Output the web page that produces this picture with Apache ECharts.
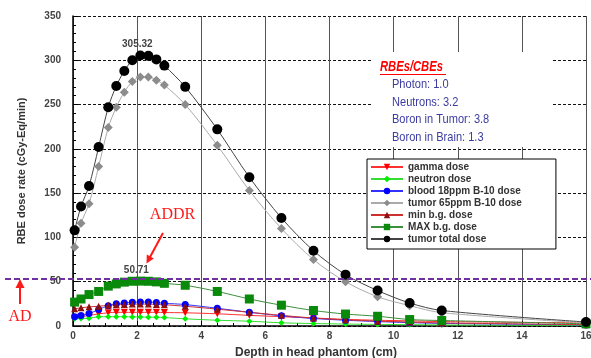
<!DOCTYPE html>
<html><head><meta charset="utf-8">
<script src="https://cdn.jsdelivr.net/npm/echarts@6/dist/echarts.min.js"></script>
<style>html,body{margin:0;padding:0;background:#fff}#c{width:591px;height:358px}</style>
</head><body><div id="c"></div>
<script>
// ---- data ----
const depth      = [0.05, 0.25, 0.5, 0.8, 1.1, 1.35, 1.6, 1.85, 2.1, 2.35, 2.6, 2.85, 3.5, 4.5, 5.5, 6.5, 7.5, 8.5, 9.5, 10.5, 11.5, 16];
const gamma      = [9.2, 10.5, 11.8, 13.7, 14.9, 15.4, 15.4, 15.4, 15.4, 15.4, 15.4, 15.2, 14.9, 13.8, 12, 10.5, 9, 7.5, 6.5, 5.8, 5, 3.5];
const neutron    = [8.1, 8.5, 8.8, 10.4, 10.5, 10.5, 10.5, 10.3, 10.2, 10, 9.8, 9.5, 8.1, 6.5, 5.4, 3.6, 2.8, 2.2, 1.8, 1.5, 1.2, 0.5];
const blood18    = [10.4, 11.8, 14, 18.6, 23, 25, 26, 26.8, 27, 27, 26.5, 25.7, 24.2, 20, 15.5, 11.5, 8.5, 6.5, 5, 3.8, 3, 1.2];
const tumor65    = [89, 116, 138, 180, 224, 247, 264, 276, 281, 281, 277.5, 272, 250, 204, 153, 110, 75, 50, 33, 23, 15, 3.5];
const minBG      = [19.4, 20.5, 21.6, 22.3, 23.4, 24, 24.3, 24.7, 24.7, 24.7, 24.3, 24, 22.3, 19, 15.5, 12, 9, 7, 5.5, 4.5, 3.5, 1.5];
const maxBG      = [27, 30.5, 35.5, 39, 45, 47.5, 49.5, 50.5, 50.71, 50.5, 49.8, 48.2, 46, 39, 30.5, 23.5, 17.5, 13.5, 11, 7.3, 6.2, 2.5];
const tumorTotal = [108, 135, 158, 202, 247, 271, 288, 300, 305.32, 305, 301, 294, 270, 222, 168, 122, 85, 58, 40, 26, 17.5, 4.5];
const seriesNames = ['gamma dose', 'neutron dose', 'blood 18ppm B-10 dose', 'tumor 65ppm B-10 dose', 'min b.g. dose', 'MAX b.g. dose', 'tumor total dose'];
const peakIndex = 8;
const peakTotalLabel = '305.32';
const peakMaxLabel = '50.71';
const adLevel = 53;
const xTicks = [0, 2, 4, 6, 8, 10, 12, 14, 16];
const yTicks = [0, 50, 100, 150, 200, 250, 300, 350];
const rbeTitle = 'RBEs/CBEs';
const rbeLines = ['Photon: 1.0', 'Neutrons: 3.2', 'Boron in Tumor: 3.8', 'Boron in Brain: 1.3'];

function pairs(vals, labelIdx, labelText, lblOffset) {
  return vals.map((v, i) => {
    if (i === labelIdx) {
      return {value: [depth[i], v], label: {show: true, position: 'top', distance: 1, offset: lblOffset,
        formatter: labelText, color: '#444', fontSize: 10, fontWeight: 'bold', fontFamily: 'Arial, Liberation Sans'}};
    }
    return [depth[i], v];
  });
}
function mk(name, vals, color, lineColor, symbol, size, opts) {
  return Object.assign({
    name: name, type: 'line', smooth: 0.3, symbol: symbol, symbolSize: size,
    data: pairs(vals),
    itemStyle: {color: color, borderWidth: 0},
    lineStyle: {color: lineColor, width: 1},
    emphasis: {disabled: true}, animation: false
  }, opts || {});
}

const chart = echarts.init(document.getElementById('c'), null, {renderer: 'canvas'});
const font = 'Arial, Liberation Sans, sans-serif';
chart.setOption({
  animation: false,
  grid: {left: 73, right: 5, top: 16, bottom: 32, containLabel: false, outerBoundsMode: 'none'},
  xAxis: {
    type: 'value', min: xTicks[0], max: xTicks[xTicks.length - 1], interval: 2,
    name: 'Depth in head phantom (cm)', nameLocation: 'middle', nameGap: 21,
    nameTextStyle: {fontSize: 12, fontWeight: 'bold', color: '#333', fontFamily: font, padding: [0, 27, 0, 0]},
    axisLine: {show: true, onZero: false, lineStyle: {color: '#000', width: 1.5}},
    axisTick: {show: true, inside: true, length: 5, lineStyle: {color: '#000'}},
    minorTick: {show: true, splitNumber: 4, length: 3, lineStyle: {color: '#000'}},
    axisLabel: {fontSize: 10, fontWeight: 'bold', color: '#444', margin: 5, fontFamily: font},
    splitLine: {show: true, lineStyle: {color: '#555', width: 1, type: 'solid'}}
  },
  yAxis: {
    type: 'value', min: yTicks[0], max: yTicks[yTicks.length - 1], interval: 50,
    name: 'RBE dose rate (cGy-Eq/min)', nameLocation: 'middle', nameGap: 46,
    nameTextStyle: {fontSize: 11, fontWeight: 'bold', color: '#333', fontFamily: font},
    axisLine: {show: true, lineStyle: {color: '#000', width: 1.5}},
    axisTick: {show: true, inside: true, length: 5, lineStyle: {color: '#000'}},
    minorTick: {show: true, splitNumber: 5, length: 3, lineStyle: {color: '#000'}},
    axisLabel: {fontSize: 10, fontWeight: 'bold', color: '#444', margin: 12, fontFamily: font},
    splitLine: {show: true, lineStyle: {color: '#111', width: 1.2, type: [3, 2]}}
  },
  legend: {
    orient: 'vertical', left: 367, top: 159, data: seriesNames,
    itemWidth: 32, itemHeight: 8, itemGap: 2,
    padding: [3, 34, 5, 3],
    backgroundColor: '#fff', borderColor: '#000', borderWidth: 1,
    textStyle: {fontSize: 10, fontWeight: 'bold', color: '#333', lineHeight: 10, fontFamily: font},
    selectedMode: false
  },
  series: [
    mk(seriesNames[0], gamma, '#ff0000', '#ff3030', 'triangle', 7, {symbolRotate: 180}),
    mk(seriesNames[1], neutron, '#00ee00', '#33dd33', 'diamond', 6),
    mk(seriesNames[2], blood18, '#0000ff', '#3333ff', 'circle', 7),
    mk(seriesNames[3], tumor65, '#8c8c8c', '#aaaaaa', 'diamond', 9),
    mk(seriesNames[4], minBG, '#8b1010', '#cc3030', 'triangle', 7),
    Object.assign(mk(seriesNames[5], maxBG, '#0a8a0a', '#3d8f3d', 'rect', 9), {data: pairs(maxBG, peakIndex, peakMaxLabel, [-4, 0])}),
    Object.assign(mk(seriesNames[6], tumorTotal, '#000000', '#444444', 'circle', 10), {data: pairs(tumorTotal, peakIndex, peakTotalLabel, [-3, 0])})
  ]
});

// annotations
const adY = chart.convertToPixel({yAxisIndex: 0}, adLevel);
const red = '#ff1a1a';
const g = [
  {type: 'rect', z: 1, shape: {x: 373, y: 52, width: 180, height: 95}, style: {fill: '#fff'}},
  {type: 'text', z: 2, x: 380, y: 67, scaleX: 0.8, style: {text: rbeTitle, fill: '#ff0000', font: 'italic bold 14px Arial, Liberation Sans', textAlign: 'left', textVerticalAlign: 'middle'}},
  {type: 'line', z: 2, shape: {x1: 380, y1: 74.5, x2: 446, y2: 74.5}, style: {stroke: '#ff0000', lineWidth: 1.2}},
  {type: 'line', z: 5, shape: {x1: 5, y1: adY, x2: 591, y2: adY}, style: {stroke: '#7030a0', lineWidth: 2, lineDash: [6, 3]}},
  {type: 'text', z: 5, x: 172.5, y: 215, style: {text: 'ADDR', fill: red, font: '16px "Liberation Serif", "Times New Roman", serif', textAlign: 'center', textVerticalAlign: 'middle'}},
  {type: 'line', z: 5, shape: {x1: 163, y1: 233, x2: 149.5, y2: 258}, style: {stroke: red, lineWidth: 2}},
  {type: 'polygon', z: 5, shape: {points: [[146.5, 263.5], [153.8, 258.4], [146.8, 254.6]]}, style: {fill: red}},
  {type: 'line', z: 5, shape: {x1: 20, y1: 304, x2: 20, y2: 287}, style: {stroke: red, lineWidth: 2}},
  {type: 'polygon', z: 5, shape: {points: [[20, 279], [15.5, 288], [24.5, 288]]}, style: {fill: red}},
  {type: 'text', z: 5, x: 20, y: 317, style: {text: 'AD', fill: red, font: '16px "Liberation Serif", "Times New Roman", serif', textAlign: 'center', textVerticalAlign: 'middle'}}
];
const lineYs = [84, 102, 119, 137];
rbeLines.forEach((t, i) => {
  g.push({type: 'text', z: 2, x: 392, y: lineYs[i], scaleX: 0.85, style: {text: t, fill: '#3b3ba0', font: '13px Arial, Liberation Sans', textAlign: 'left', textVerticalAlign: 'middle'}});
});
chart.setOption({graphic: g});
</script>
</body></html>
